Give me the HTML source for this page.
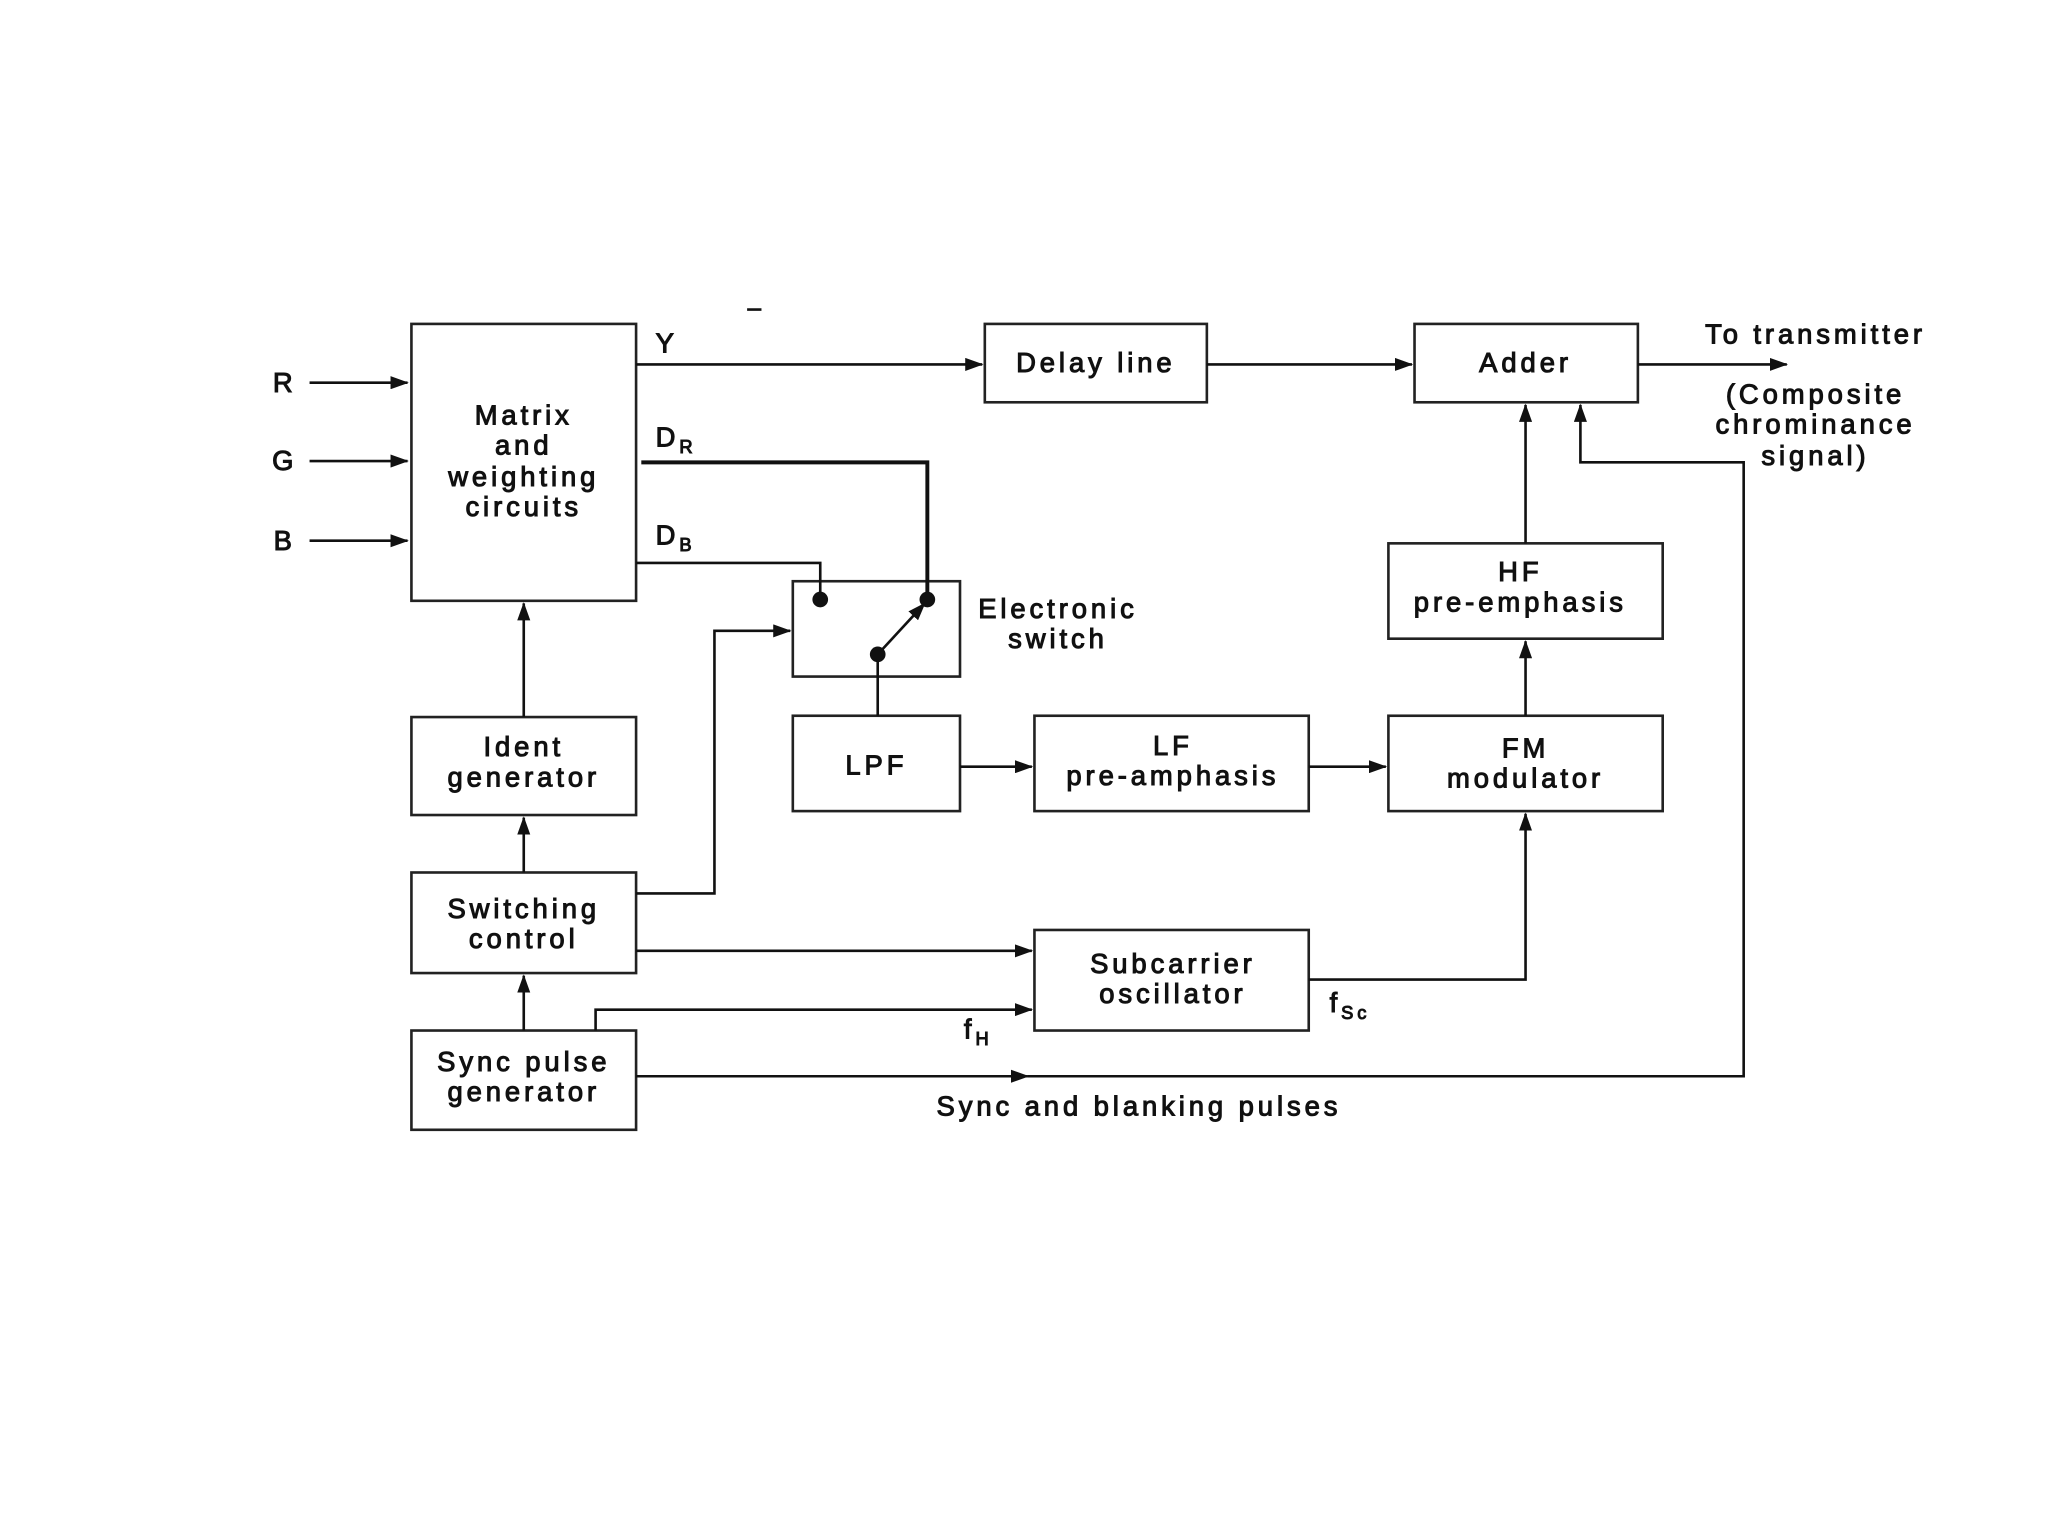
<!DOCTYPE html>
<html><head><meta charset="utf-8"><style>
html,body{margin:0;padding:0;background:#fff;}
svg{display:block;}
text{font-family:"Liberation Sans",Arial,sans-serif;font-size:21px;letter-spacing:3px;fill:#111;stroke:#111;stroke-width:0.8;}
</style></head><body>
<svg width="2048" height="1536" viewBox="0 0 1568 1176" xmlns="http://www.w3.org/2000/svg">
<defs>
<marker id="a" markerWidth="14" markerHeight="10" refX="13" refY="5" orient="auto" markerUnits="userSpaceOnUse">
<path d="M0,0 L14,5 L0,10 z" fill="#111"/></marker>
</defs>
<rect width="1568" height="1176" fill="#fff"/>
<g fill="none" stroke="#222" stroke-width="2">
<rect x="315" y="248" width="172" height="212"/>
<rect x="754" y="248" width="170" height="60"/>
<rect x="1083" y="248" width="171" height="60"/>
<rect x="1063" y="416" width="210" height="73"/>
<rect x="607" y="445" width="128" height="73"/>
<rect x="607" y="548" width="128" height="73"/>
<rect x="792" y="548" width="210" height="73"/>
<rect x="1063" y="548" width="210" height="73"/>
<rect x="315" y="549" width="172" height="75"/>
<rect x="315" y="668" width="172" height="77"/>
<rect x="792" y="712" width="210" height="77"/>
<rect x="315" y="789" width="172" height="76"/>
</g>
<g fill="none" stroke="#111" stroke-width="2">
<line x1="237" y1="293" x2="312" y2="293" marker-end="url(#a)"/>
<line x1="237" y1="353" x2="312" y2="353" marker-end="url(#a)"/>
<line x1="237" y1="414" x2="312" y2="414" marker-end="url(#a)"/>
<line x1="487" y1="279" x2="752" y2="279" marker-end="url(#a)"/>
<line x1="924" y1="279" x2="1081" y2="279" marker-end="url(#a)"/>
<line x1="1254" y1="279" x2="1368" y2="279" marker-end="url(#a)"/>
<polyline points="491,354 710,354 710,459" stroke-width="3"/>
<polyline points="487,431 628,431 628,459"/>
<line x1="672" y1="501" x2="708" y2="462" marker-end="url(#a)"/>
<line x1="672" y1="501" x2="672" y2="548"/>
<polyline points="487,684 547,684 547,483 605,483" marker-end="url(#a)"/>
<line x1="487" y1="728" x2="790" y2="728" marker-end="url(#a)"/>
<polyline points="456,789 456,773 790,773" marker-end="url(#a)"/>
<line x1="487" y1="824" x2="787" y2="824" marker-end="url(#a)"/>
<polyline points="787,824 1335,824 1335,354 1210,354 1210,310" marker-end="url(#a)"/>
<polyline points="1002,750 1168,750 1168,623" marker-end="url(#a)"/>
<line x1="735" y1="587" x2="790" y2="587" marker-end="url(#a)"/>
<line x1="1002" y1="587" x2="1061" y2="587" marker-end="url(#a)"/>
<line x1="1168" y1="548" x2="1168" y2="491" marker-end="url(#a)"/>
<line x1="1168" y1="416" x2="1168" y2="310" marker-end="url(#a)"/>
<line x1="401" y1="549" x2="401" y2="462" marker-end="url(#a)"/>
<line x1="401" y1="668" x2="401" y2="626" marker-end="url(#a)"/>
<line x1="401" y1="789" x2="401" y2="747" marker-end="url(#a)"/>
<line x1="572" y1="237" x2="583" y2="237"/>
</g>
<g fill="#111"><circle cx="628" cy="459" r="6"/><circle cx="710" cy="459" r="6"/><circle cx="672" cy="501" r="6"/></g>
<g text-anchor="middle">
<text x="218" y="300">R</text><text x="218" y="360">G</text><text x="218" y="421">B</text>
<text x="401" y="325">Matrix</text><text x="401" y="348">and</text><text x="401" y="372">weighting</text><text x="401" y="395">circuits</text>
<text x="839" y="285">Delay line</text>
<text x="1168" y="285">Adder</text>
<text x="1390" y="263">To transmitter</text>
<text x="1390" y="309">(Composite</text><text x="1390" y="332">chrominance</text><text x="1390" y="356">signal)</text>
<text x="1164" y="445">HF</text><text x="1164" y="468">pre-emphasis</text>
<text x="810" y="473">Electronic</text><text x="810" y="496">switch</text>
<text x="671" y="593">LPF</text>
<text x="898" y="578">LF</text><text x="898" y="601">pre-amphasis</text>
<text x="1168" y="580">FM</text><text x="1168" y="603">modulator</text>
<text x="401" y="579">Ident</text><text x="401" y="602">generator</text>
<text x="401" y="703">Switching</text><text x="401" y="726">control</text>
<text x="898" y="745">Subcarrier</text><text x="898" y="768">oscillator</text>
<text x="401" y="820">Sync pulse</text><text x="401" y="843">generator</text>
<text x="872" y="854">Sync and blanking pulses</text>
</g>
<text x="502" y="270">Y</text>
<text x="502" y="342">D<tspan font-size="14" dy="5">R</tspan></text>
<text x="502" y="417">D<tspan font-size="14" dy="5">B</tspan></text>
<text x="738" y="795">f<tspan font-size="14" dy="5">H</tspan></text>
<text x="1018" y="775">f<tspan font-size="14" dy="5">Sc</tspan></text>
</svg>
</body></html>
